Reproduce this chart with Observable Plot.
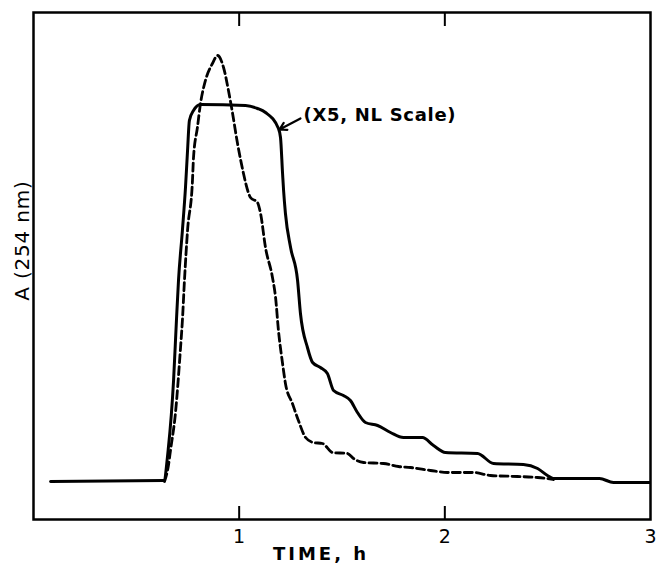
<!DOCTYPE html>
<html>
<head>
<meta charset="utf-8">
<script src="https://cdn.jsdelivr.net/npm/d3@7"></script>
<script src="https://cdn.jsdelivr.net/npm/@observablehq/plot@0.6"></script>
<style>
  html, body { margin: 0; padding: 0; background: #fff; }
  #chart { width: 656px; height: 570px; }
</style>
</head>
<body>
<div id="chart"></div>
<script>
// Solid trace (X5, NL scale)
const timeSolid = [0.083, 0.632, 0.656, 0.681, 0.695, 0.705, 0.724, 0.739, 0.749, 0.758, 0.778, 0.812,
  1.031, 1.089, 1.128, 1.191, 1.201, 1.211, 1.216, 1.225, 1.250, 1.284, 1.298, 1.332, 1.357, 1.395,
  1.429, 1.459, 1.507, 1.541, 1.575, 1.614, 1.673, 1.736, 1.799, 1.891, 1.945, 2.003, 2.159, 2.237,
  2.382, 2.451, 2.499, 2.528, 2.752, 2.820, 2.995];
const absSolid = [0, 0.01, 0.34, 1.01, 1.61, 2.01, 2.51, 2.94, 3.31, 3.61, 3.71, 3.77,
  3.76, 3.73, 3.69, 3.53, 3.44, 3.08, 2.91, 2.68, 2.34, 2.01, 1.68, 1.34, 1.19, 1.14,
  1.08, 0.91, 0.86, 0.81, 0.69, 0.59, 0.56, 0.49, 0.44, 0.44, 0.36, 0.29, 0.28, 0.18,
  0.17, 0.13, 0.06, 0.03, 0.03, -0.01, -0.01];

// Dashed trace
const timeDashed = [0.637, 0.656, 0.666, 0.690, 0.715, 0.724, 0.734, 0.749, 0.773, 0.778, 0.797, 0.812,
  0.836, 0.870, 0.895, 0.924, 0.948, 0.968, 0.992, 1.021, 1.031, 1.055, 1.089, 1.104, 1.128, 1.162,
  1.177, 1.191, 1.211, 1.225, 1.259, 1.288, 1.323, 1.361, 1.405, 1.454, 1.527, 1.556, 1.605, 1.702,
  1.775, 1.833, 1.930, 2.013, 2.139, 2.222, 2.353, 2.451, 2.528];
const absDashed = [0, 0.16, 0.31, 0.68, 1.34, 1.61, 2.01, 2.51, 3.01, 3.24, 3.54, 3.78,
  4.01, 4.18, 4.26, 4.14, 3.91, 3.68, 3.38, 3.08, 2.99, 2.84, 2.79, 2.68, 2.34, 2.04,
  1.84, 1.51, 1.18, 0.98, 0.78, 0.61, 0.44, 0.39, 0.38, 0.29, 0.28, 0.23, 0.19, 0.18,
  0.15, 0.14, 0.11, 0.09, 0.09, 0.06, 0.05, 0.04, 0.02];

const xTicks = [1, 2, 3];
const innerTicks = [1, 2];
const xDomain = [0, 3];
const yDomain = [-0.38, 4.69];
const xLabel = "TIME, h";
const yLabel = "A (254 nm)";
const yLabelPos = {x: -0.053, y: 2.41};
const noteText = "(X5, NL Scale)";
const noteX = [1.313], noteY = [3.66];
const arrowFrom = {x: 1.298, y: 3.63};
const arrowTo = {x: 1.196, y: 3.52};

const solid = timeSolid.map((t, i) => ({t, a: absSolid[i]}));
const dashed = timeDashed.map((t, i) => ({t, a: absDashed[i]}));

const font = "DejaVu Sans, sans-serif";

const chart = Plot.plot({
  width: 656,
  height: 570,
  marginLeft: 33,
  marginRight: 6,
  marginTop: 12,
  marginBottom: 51,
  style: {fontFamily: font, background: "#fff", color: "#000"},
  x: {domain: xDomain},
  y: {domain: yDomain, axis: null},
  marks: [
    Plot.frame({stroke: "#000", strokeWidth: 2.5}),
    Plot.axisX(xTicks, {tickSize: 0, tickPadding: 10, fontSize: 19, label: null, tickFormat: d => String(d)}),
    Plot.ruleX(innerTicks, {y1: yDomain[0], y2: yDomain[0] + 0.13, stroke: "#000", strokeWidth: 2}),
    Plot.ruleX(innerTicks, {y1: yDomain[1], y2: yDomain[1] - 0.14, stroke: "#000", strokeWidth: 2}),
    Plot.line(solid, {x: "t", y: "a", stroke: "#000", strokeWidth: 3, strokeLinejoin: "round", curve: "monotone-x"}),
    Plot.line(dashed, {x: "t", y: "a", stroke: "#000", strokeWidth: 2.8, strokeDasharray: "8,4", curve: "monotone-x"}),
    Plot.arrow([{x1: arrowFrom.x, y1: arrowFrom.y, x2: arrowTo.x, y2: arrowTo.y}], {x1: "x1", y1: "y1", x2: "x2", y2: "y2", stroke: "#000", strokeWidth: 2.2, headLength: 7, bend: 0}),
    Plot.text([noteText], {x: noteX, y: noteY, text: d => d, textAnchor: "start", fontSize: 18, fontWeight: "bold", fill: "#000"}),
    Plot.text([xLabel], {frameAnchor: "bottom", text: d => d, dx: -21, dy: 40, fontSize: 18, fontWeight: "bold", fill: "#000"}),
    Plot.text([yLabel], {x: [yLabelPos.x], y: [yLabelPos.y], text: d => d, rotate: -90, textAnchor: "middle", lineAnchor: "middle", fontSize: 20, fill: "#000"})
  ]
});
document.getElementById("chart").appendChild(chart);
// letter spacing for labels
d3.select(chart).selectAll("text").each(function() {
  const t = this.textContent;
  if (t === xLabel) this.setAttribute("letter-spacing", "3");
  if (t === noteText) this.setAttribute("letter-spacing", "0.7");
  if (t === yLabel) this.setAttribute("letter-spacing", "0.8");
});
</script>
</body>
</html>
